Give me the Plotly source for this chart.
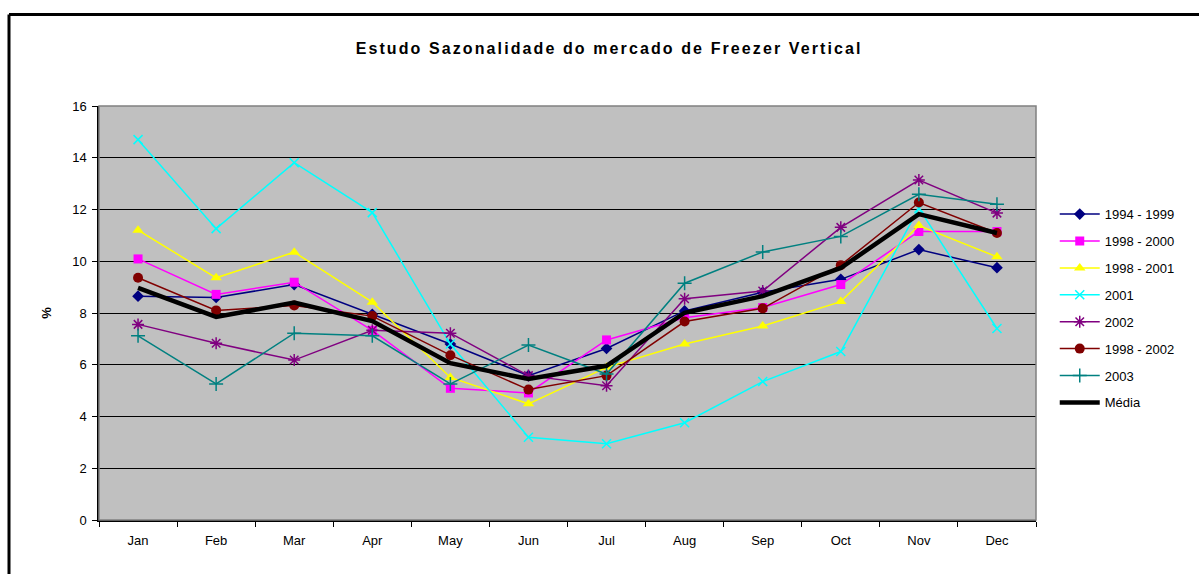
import plotly.graph_objects as go

months = ["Jan", "Feb", "Mar", "Apr", "May", "Jun", "Jul", "Aug", "Sep", "Oct", "Nov", "Dec"]

s_1994_1999 = [8.65, 8.6, 9.1, 7.95, 6.8, 5.58, 6.63, 8.08, 8.8, 9.3, 10.45, 9.75]
s_1998_2000 = [10.09, 8.72, 9.19, 7.33, 5.09, 4.91, 6.96, 7.82, 8.21, 9.1, 11.15, 11.15]
s_1998_2001 = [11.2, 9.36, 10.35, 8.42, 5.51, 4.49, 5.9, 6.8, 7.5, 8.44, 11.38, 10.17]
s_2001 = [14.7, 11.26, 13.81, 11.88, 6.8, 3.2, 2.95, 3.76, 5.35, 6.51, 12.05, 7.4]
s_2002 = [7.56, 6.83, 6.18, 7.33, 7.22, 5.58, 5.19, 8.55, 8.85, 11.31, 13.14, 11.86]
s_1998_2002 = [9.36, 8.1, 8.29, 7.88, 6.37, 5.04, 5.58, 7.67, 8.18, 9.85, 12.27, 11.09]
s_2003 = [7.12, 5.26, 7.22, 7.12, 5.26, 6.76, 5.64, 9.15, 10.36, 10.96, 12.59, 12.2]
s_media = [8.97, 7.85, 8.4, 7.69, 6.06, 5.45, 5.96, 8.01, 8.65, 9.74, 11.82, 11.09]

y_ticks = [0, 2, 4, 6, 8, 10, 12, 14, 16]

series = [
    ("1994 - 1999", s_1994_1999, "#000080", "diamond", 9),
    ("1998 - 2000", s_1998_2000, "#FF00FF", "square", 9),
    ("1998 - 2001", s_1998_2001, "#FFFF00", "triangle-up", 10),
    ("2001", s_2001, "#00FFFF", "x-thin", 9),
    ("2002", s_2002, "#800080", "asterisk", 10),
    ("1998 - 2002", s_1998_2002, "#800000", "circle", 10),
    ("2003", s_2003, "#008080", "cross-thin", 10),
]

fig = go.Figure()
for i, (name, vals, color, sym, size) in enumerate(series):
    thin = sym.endswith("thin") or sym == "asterisk"
    marker = dict(symbol=sym, size=size, color=color,
                  line=dict(color=color, width=1.5 if thin else 0))
    fig.add_trace(go.Scatter(
        x=months, y=vals, name=name, mode="lines+markers", legendgroup=f"g{i}",
        line=dict(color=color, width=1.5), marker=marker,
    ))

fig.add_trace(go.Scatter(
    x=months, y=s_media, name="Média", mode="lines", legendgroup="gm",
    line=dict(color="#000000", width=4.5),
))

fig.update_layout(
    width=1199, height=574,
    margin=dict(l=99, r=163, t=106, b=54),
    paper_bgcolor="white", plot_bgcolor="#C0C0C0",
    font=dict(family="Liberation Sans, Arial", size=13, color="black"),
    title=dict(text="<b>Estudo Sazonalidade do mercado de Freezer Vertical</b>",
               x=0.508, xanchor="center", y=0.916, yanchor="middle",
               font=dict(family="Liberation Sans, Arial", size=16)),
    showlegend=True,
    legend=dict(x=1.02, y=0.775, xanchor="left", yanchor="top",
                bgcolor="rgba(0,0,0,0)", font=dict(size=13),
                tracegroupgap=7, itemwidth=40),
    shapes=[
        dict(type="line", xref="paper", yref="paper",
             x0=(9 - 99) / 937, x1=1.3, y0=(520 - 14.5) / 414, y1=(520 - 14.5) / 414,
             line=dict(color="black", width=3)),
        dict(type="line", xref="paper", yref="paper",
             x0=(9 - 99) / 937, x1=(9 - 99) / 937, y0=(520 - 14.5) / 414, y1=-0.3,
             line=dict(color="black", width=3)),
        dict(type="rect", xref="paper", yref="paper", x0=0, x1=1, y0=0, y1=1,
             line=dict(color="#808080", width=1.5), layer="above"),
    ],
)

fig.update_xaxes(
    type="category", tickson="boundaries", ticks="outside", ticklen=5,
    range=[-0.5, len(months) - 0.5],
    tickcolor="black", showgrid=False, showline=True, linecolor="black",
    linewidth=1.5, mirror=False, tickfont=dict(size=13), zeroline=False,
    ticklabelstandoff=8,
)
fig.update_yaxes(
    range=[0, 16], tickvals=y_ticks, ticks="outside", ticklen=5,
    tickcolor="black", showgrid=True, gridcolor="#000000", gridwidth=1,
    showline=True, linecolor="black", linewidth=1.5, zeroline=False,
    tickfont=dict(size=13), ticklabelstandoff=3,
    title=dict(text="<b>%</b>", font=dict(size=13), standoff=18),
)

post = (
    "document.body.style.margin='0px';"
    "document.querySelectorAll('.gtitle').forEach(function(t){t.style.letterSpacing='2.1px';});"
)
fig.write_html("out.html", post_script=post, config={"displayModeBar": False})
